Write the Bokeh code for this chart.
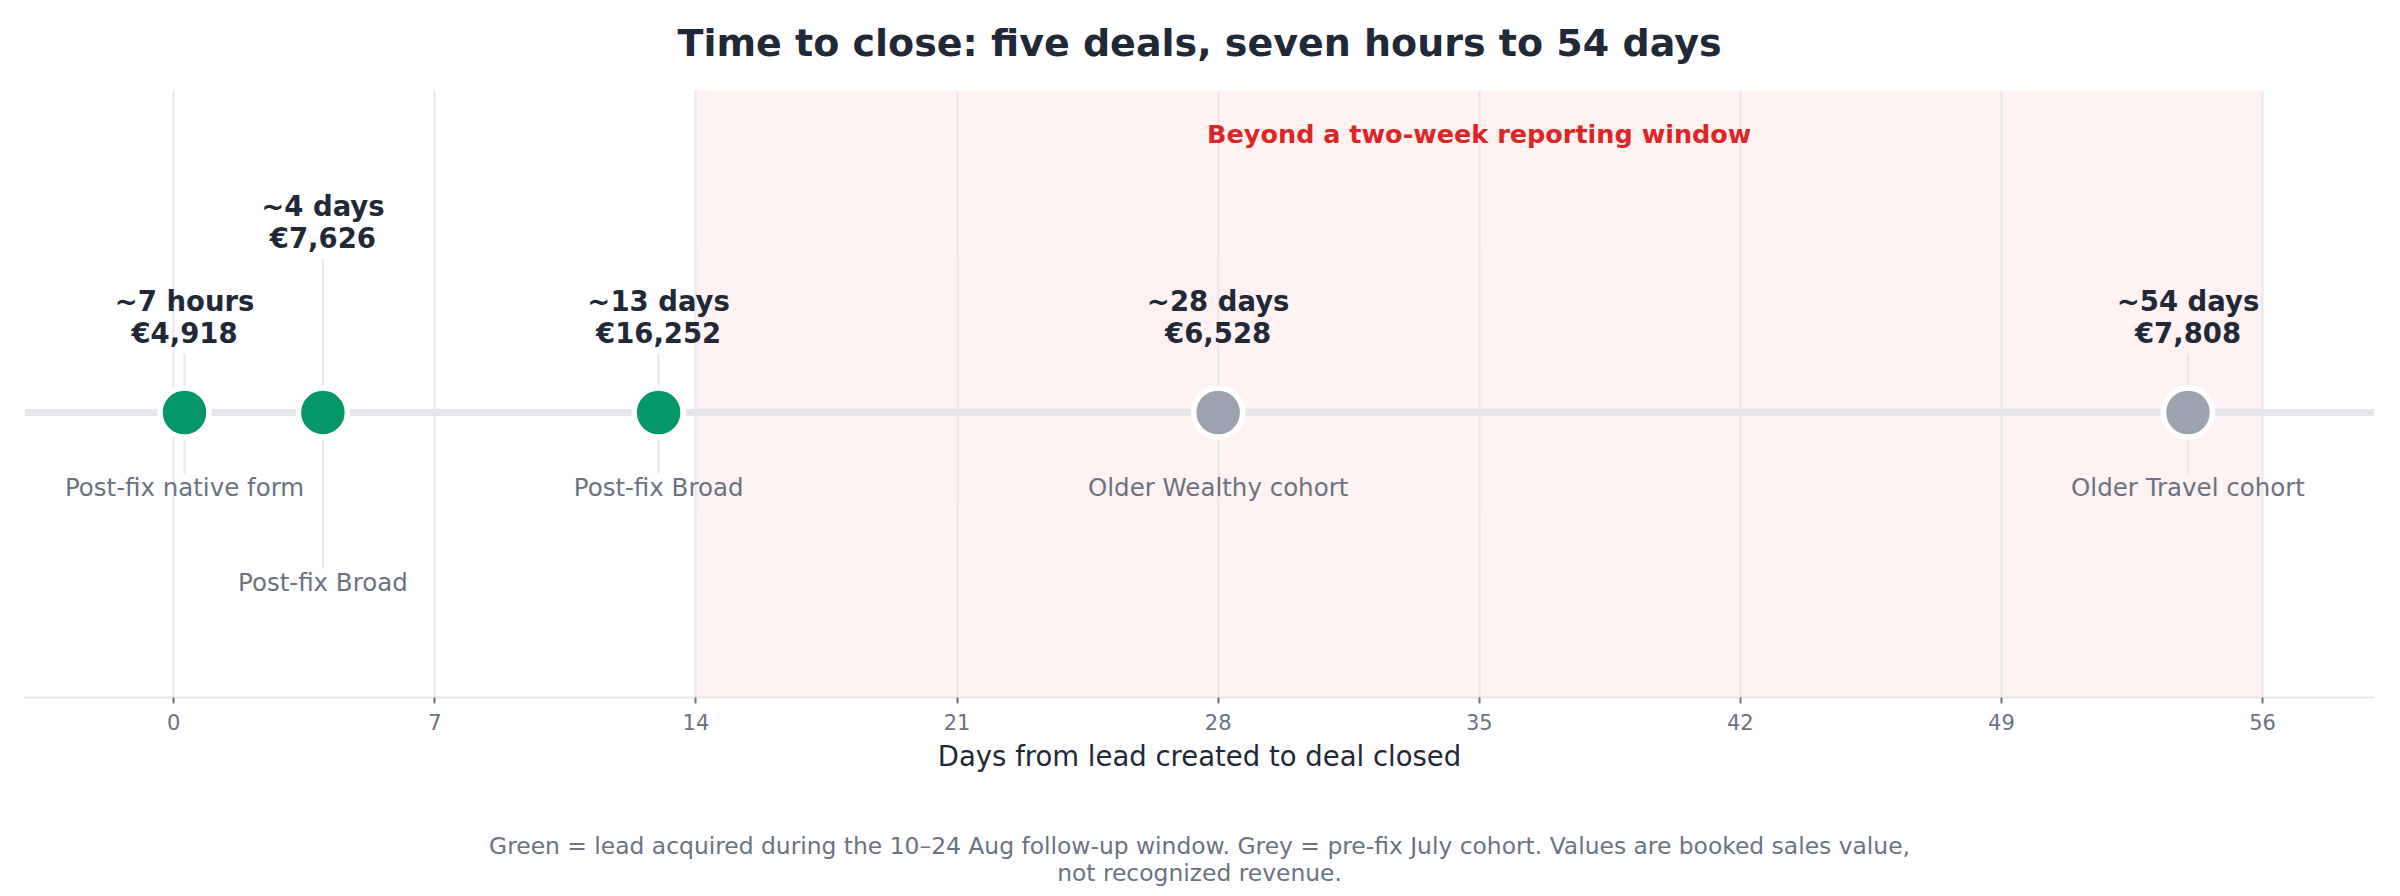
from bokeh.plotting import figure
from bokeh.models import Range1d, Span, BoxAnnotation, Title, FixedTicker, ColumnDataSource
from bokeh.core.properties import value
from bokeh.embed import file_html
from bokeh.resources import INLINE

# ---------------- data ----------------
deal_days = [0.29, 4.0, 13.0, 28.0, 54.0]
duration_labels = ["~7 hours", "~4 days", "~13 days", "~28 days", "~54 days"]
deal_values = [4918, 7626, 16252, 6528, 7808]
segment_labels = ["Post-fix native form", "Post-fix Broad", "Post-fix Broad",
                  "Older Wealthy cohort", "Older Travel cohort"]
cohorts = ["post-fix", "post-fix", "post-fix", "pre-fix", "pre-fix"]
x_ticks = [0, 7, 14, 21, 28, 35, 42, 49, 56]
window_start = 14
window_end = 56

title_text = "Time to close: five deals, seven hours to 54 days"
window_text = "Beyond a two-week reporting window"
x_label = "Days from lead created to deal closed"
foot_1 = ("Green = lead acquired during the 10\u201324 Aug follow-up window. "
          "Grey = pre-fix July cohort. Values are booked sales value,")
foot_2 = "not recognized revenue."

# ---------------- style ----------------
FONT = "DejaVu Sans"
DARK = "#1f2937"
MUTED = "#6b7280"
GRID = "#e5e7eb"
COL = {"post-fix": "#059669", "pre-fix": "#9ca3af"}

# stagger labels of deals that sit close to the previous one
levels = []
for i, d in enumerate(deal_days):
    if i > 0 and d - deal_days[i - 1] < 5 and levels[-1] == 0:
        levels.append(1)
    else:
        levels.append(0)
STEP = 95
src = ColumnDataSource(dict(
    x=deal_days,
    zero=[0] * len(deal_days),
    dur=duration_labels,
    val=["\u20ac{:,}".format(v) for v in deal_values],
    seg=segment_labels,
    color=[COL[c] for c in cohorts],
    y_dur=[112 + STEP * l for l in levels],
    y_val=[80 + STEP * l for l in levels],
    y_top=[59 + STEP * l for l in levels],
    y_bot=[-61 - STEP * l for l in levels],
    y_seg=[-75 - STEP * l for l in levels],
))

p = figure(width=2392, height=890, output_backend="svg", toolbar_location=None,
           x_range=Range1d(-4, 59), y_range=Range1d(-285, 322),
           min_border_left=24, min_border_right=18, min_border_top=90,
           min_border_bottom=193, background_fill_color="white",
           border_fill_color="white")
p.outline_line_color = None

p.title.text = title_text
p.title.align = "center"
p.title.text_font = FONT
p.title.text_font_size = "38px"
p.title.text_font_style = "bold"
p.title.text_color = DARK
p.title.vertical_align = "middle"
p.title.standoff = 0

# empty gap between the title and the plot frame
top_gap = Title(text=" ", text_font=FONT, text_font_size="10px", standoff=12)
p.add_layout(top_gap, "above")

p.yaxis.visible = False
p.ygrid.visible = False
p.xgrid.ticker = FixedTicker(ticks=x_ticks)
p.xgrid.grid_line_color = GRID
p.xgrid.grid_line_width = 2

ax = p.xaxis[0]
ax.ticker = FixedTicker(ticks=x_ticks)
ax.axis_line_color = GRID
ax.axis_line_width = 2
ax.major_tick_line_color = MUTED
ax.major_tick_line_width = 2
ax.major_tick_out = 6
ax.major_tick_in = 0
ax.minor_tick_line_color = None
ax.major_label_text_font = FONT
ax.major_label_text_font_size = "21px"
ax.major_label_text_color = MUTED
ax.major_label_standoff = 10
ax.axis_label = x_label
ax.axis_label_text_font = FONT
ax.axis_label_text_font_size = "27.5px"
ax.axis_label_text_font_style = "normal"
ax.axis_label_text_color = DARK
ax.axis_label_standoff = 7

band = BoxAnnotation(left=window_start, right=window_end, fill_color="#fef2f2",
                     fill_alpha=1.0, line_color=None, level="image")
p.add_layout(band)

timeline = Span(location=0, dimension="width", line_color=GRID, line_width=7,
                level="underlay")
p.add_layout(timeline)

p.text(x=[(window_start + window_end) / 2], y=[279], text=[window_text],
       text_font=value(FONT), text_font_size="25.5px", text_font_style="bold",
       text_color="#dc2626", text_align="center", text_baseline="middle")

p.segment(x0="x", y0="y_top", x1="x", y1="y_bot", source=src,
          line_color=GRID, line_width=2)

p.scatter(x="x", y="zero", source=src, size=49, fill_color="color",
          line_color="white", line_width=5.5)

p.text(x="x", y="y_dur", text="dur", source=src, text_font=value(FONT),
       text_font_size="27.5px", text_font_style="bold", text_color=DARK,
       text_align="center", text_baseline="middle")
p.text(x="x", y="y_val", text="val", source=src, text_font=value(FONT),
       text_font_size="27.5px", text_font_style="bold", text_color=DARK,
       text_align="center", text_baseline="middle")
p.text(x="x", y="y_seg", text="seg", source=src, text_font=value(FONT),
       text_font_size="24.5px", text_color=MUTED,
       text_align="center", text_baseline="middle")

bottom_gap = Title(text=" ", align="center", text_font=FONT, text_font_size="22px",
                   standoff=28)
t1 = Title(text=foot_1, align="center", text_font=FONT, text_font_size="23.4px",
           text_font_style="normal", text_color=MUTED, standoff=0)
t2 = Title(text=foot_2, align="center", text_font=FONT, text_font_size="23.4px",
           text_font_style="normal", text_color=MUTED, standoff=-6)
p.add_layout(bottom_gap, "below")
p.add_layout(t1, "below")
p.add_layout(t2, "below")

open("out.html", "w").write(file_html(p, INLINE))
